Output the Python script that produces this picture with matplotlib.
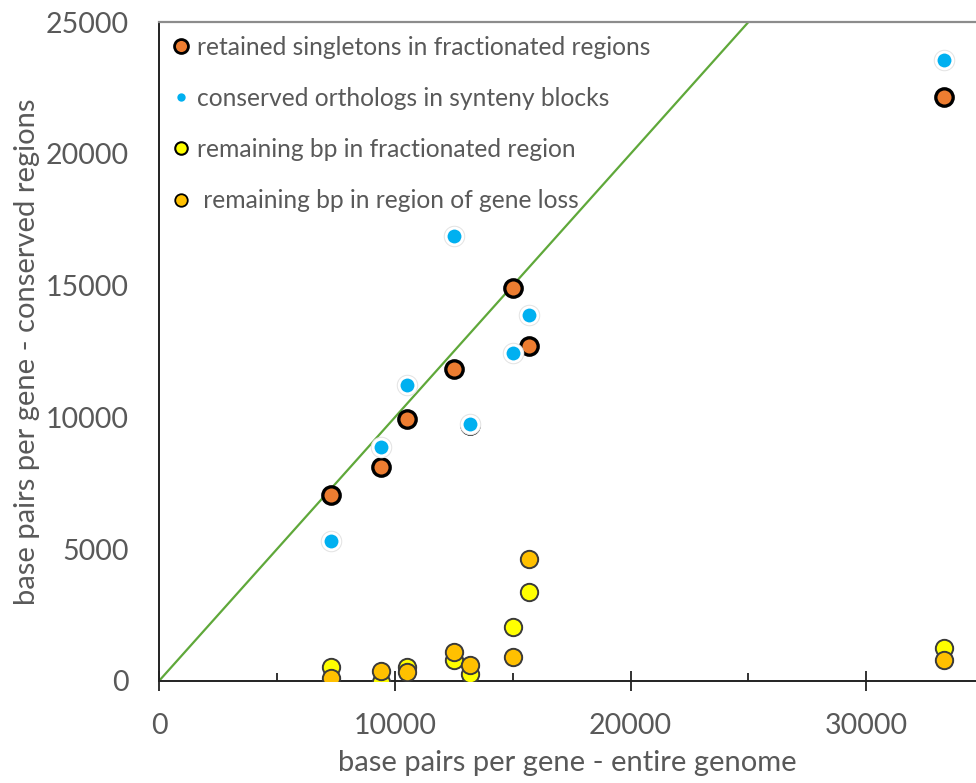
import matplotlib.pyplot as plt
from matplotlib.lines import Line2D
from matplotlib.ticker import MultipleLocator

plt.rcParams['font.family'] = ['Lato', 'DejaVu Sans']

# base pairs per gene over the whole genome (x) for each species
genome = [7300, 9400, 10500, 12500, 13200, 15000, 15700, 33300]

# base pairs per gene in conserved regions (y)
singletons = [7050, 8120, 9940, 11840, 9700, 14910, 12710, 22150]
orthologs = [5310, 8880, 11230, 16880, 9750, 12440, 13890, 23560]
frac_bp = [530, -40, 530, 800, 270, 2050, 3380, 1250]
loss_bp = [110, 380, 340, 1100, 610, 910, 4630, 800]

labels = ['retained singletons in fractionated regions',
          'conserved orthologs in synteny blocks',
          'remaining bp in fractionated region',
          ' remaining bp in region of gene loss']

grey = '#595959'

fig = plt.figure(figsize=(9.76, 7.83), dpi=100)
ax = fig.add_axes([0.1629, 0.1303, 0.8371, 0.8416])

# y = x reference line
ax.plot([0, 30000], [0, 30000], color='#5fa83a', lw=1.6, zorder=1)

ax.plot(genome, singletons, 'o', ms=12.5, mfc='#ed7d31', mec='black', mew=2.4, zorder=2)
ax.plot(genome, orthologs, 'o', ms=15.5, mfc='#e4e4e4', mec='none', zorder=3)
ax.plot(genome, orthologs, 'o', ms=12, mfc='#00b0f0', mec='white', mew=2, zorder=3)
ax.plot(genome, frac_bp, 'o', ms=12.5, mfc='#ffff00', mec='#3a3a3a', mew=1.4, zorder=4)
ax.plot(genome, loss_bp, 'o', ms=12.5, mfc='#ffc000', mec='#3a3a3a', mew=1.4, zorder=5)

ax.set_xlim(0, 34650)
ax.set_ylim(0, 25000)
ax.xaxis.set_major_locator(MultipleLocator(10000))
ax.xaxis.set_minor_locator(MultipleLocator(5000))
ax.yaxis.set_major_locator(MultipleLocator(5000))
ax.tick_params(axis='x', which='major', direction='inout', length=14, width=1.3,
               color='#222222', labelsize=20.5, labelcolor=grey, pad=16)
ax.tick_params(axis='x', which='minor', direction='in', length=6, width=1.3, color='#222222')
ax.tick_params(axis='y', length=0, labelsize=20.5, labelcolor=grey, pad=22)

for s in ['left', 'bottom']:
    ax.spines[s].set_color('#222222')
    ax.spines[s].set_linewidth(1.4)
ax.spines['top'].set_color('#8c8c8c')
ax.spines['top'].set_linewidth(1.6)
ax.spines['right'].set_visible(False)

ax.set_xlabel('base pairs per gene - entire genome', fontsize=21, color=grey, labelpad=8)
ax.set_ylabel('base pairs per gene - conserved regions', fontsize=21, color=grey, labelpad=4)

handles = [
    Line2D([], [], ls='none', marker='o', ms=10, mfc='#ed7d31', mec='black', mew=2),
    Line2D([], [], ls='none', marker='o', ms=6, mfc='#00b0f0', mec='none'),
    Line2D([], [], ls='none', marker='o', ms=9, mfc='#ffff00', mec='black', mew=1.5),
    Line2D([], [], ls='none', marker='o', ms=9, mfc='#ffc000', mec='black', mew=1.3),
]
leg = ax.legend(handles, labels, loc='upper left', frameon=False, fontsize=17.7,
                labelcolor=grey, handlelength=0.65, handletextpad=0.35,
                labelspacing=1.15, borderaxespad=0.15, bbox_to_anchor=(0.0, 1.0))

fig.savefig('out.png', dpi=100)
